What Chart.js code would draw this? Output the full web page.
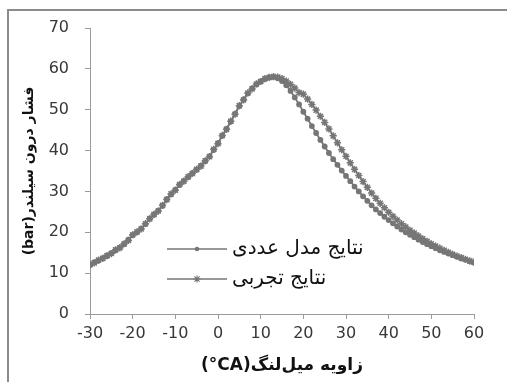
<!DOCTYPE html>
<html dir="ltr">
<head>
<meta charset="utf-8">
<script src="https://cdn.jsdelivr.net/npm/chart.js@4.4.1/dist/chart.umd.min.js"></script>
<style>
    html, body { margin: 0; padding: 0; background: #fff; }
    #wrap { position: relative; width: 507px; height: 382px; overflow: hidden; }
    #frame { position: absolute; left: 7px; top: 9px; width: 600px; height: 500px;
             border-left: 2px solid #8c8c8c; border-top: 2px solid #8c8c8c; }
    #pressureChart { position: absolute; left: 0; top: 0; }
</style>
</head>
<body>
<div id="wrap">
    <div id="frame"></div>
    <canvas id="pressureChart" width="507" height="382"></canvas>
</div>
<script>
    // crank angle (°CA)
    const angles = [
        -30, -29, -28, -27, -26, -25, -24, -23, -22, -21,
        -20, -19, -18, -17, -16, -15, -14, -13, -12, -11,
        -10, -9, -8, -7, -6, -5, -4, -3, -2, -1,
        0, 1, 2, 3, 4, 5, 6, 7, 8, 9,
        10, 11, 12, 13, 14, 15, 16, 17, 18, 19,
        20, 21, 22, 23, 24, 25, 26, 27, 28, 29,
        30, 31, 32, 33, 34, 35, 36, 37, 38, 39,
        40, 41, 42, 43, 44, 45, 46, 47, 48, 49,
        50, 51, 52, 53, 54, 55, 56, 57, 58, 59,
        60
    ];

    // numerical model pressure (bar)
    const modelPressure = [
        12.0, 12.6, 13.1, 13.7, 14.2, 14.9, 15.6, 16.3, 17.1, 18.2,
        19.3, 20.0, 20.9, 22.0, 23.4, 24.3, 25.3, 26.5, 28.1, 29.3,
        30.4, 31.6, 32.6, 33.5, 34.5, 35.3, 36.3, 37.4, 38.6, 40.2,
        41.8, 43.6, 45.3, 47.1, 49.0, 50.9, 52.5, 54.0, 55.2, 56.2,
        56.9, 57.5, 57.9, 58.0, 57.7, 57.0, 56.0, 54.6, 53.0, 51.3,
        49.5, 47.8, 46.0, 44.3, 42.6, 41.0, 39.4, 37.9, 36.5, 35.1,
        33.8, 32.5, 31.2, 30.0, 28.8, 27.7, 26.6, 25.6, 24.7, 23.8,
        23.0, 22.2, 21.4, 20.7, 20.0, 19.4, 18.8, 18.2, 17.6, 17.1,
        16.6, 16.1, 15.6, 15.2, 14.8, 14.4, 14.0, 13.6, 13.3, 12.9,
        12.6
    ];

    // experimental pressure (bar)
    const testPressure = [
        12.1, 12.5, 13.2, 13.6, 14.3, 14.8, 15.7, 16.2, 17.2, 18.0,
        19.4, 20.1, 20.8, 22.1, 23.3, 24.4, 25.2, 26.6, 28.0, 29.4,
        30.3, 31.7, 32.5, 33.6, 34.4, 35.4, 36.2, 37.5, 38.5, 40.3,
        41.7, 43.7, 45.2, 47.2, 48.9, 51.0, 52.4, 54.1, 55.1, 56.3,
        56.9, 57.6, 57.9, 58.1, 58.0, 57.6, 57.0, 56.2, 55.3, 54.2,
        53.8, 52.6, 51.3, 49.9, 48.4, 46.9, 45.3, 43.6, 41.9, 40.2,
        38.6, 37.0, 35.4, 33.9, 32.4, 31.0, 29.6, 28.3, 27.1, 26.0,
        24.9, 23.9, 23.0, 22.1, 21.3, 20.5, 19.8, 19.1, 18.4, 17.8,
        17.2, 16.6, 16.1, 15.6, 15.1, 14.6, 14.2, 13.8, 13.4, 13.0,
        12.7
    ];

    const seriesNames = ['نتایج مدل عددی', 'نتایج تجربی'];
    const xTicks = [-30, -20, -10, 0, 10, 20, 30, 40, 50, 60];
    const yTicks = [0, 10, 20, 30, 40, 50, 60, 70];

    const markColor = '#767676';

    // small line + marker glyph for legend entries
    const legendGlyph = (style) => {
        const c = document.createElement('canvas');
        c.width = 60;
        c.height = 12;
        const g = c.getContext('2d');
        g.strokeStyle = markColor;
        g.fillStyle = markColor;
        g.lineWidth = 1.3;
        g.beginPath();
        g.moveTo(0, 6);
        g.lineTo(60, 6);
        g.stroke();
        if (style === 'circle') {
            Chart.helpers.drawPoint(g, {pointStyle: 'circle', radius: 2.3, borderWidth: 0}, 30, 6);
        } else {
            g.lineWidth = 1.1;
            Chart.helpers.drawPoint(g, {pointStyle: 'star', radius: 3.6, borderWidth: 1.1}, 30, 6);
        }
        return c;
    };

    const toPoints = (ys) => angles.map((a, i) => ({x: a, y: ys[i]}));

    const legendSpot = {
        id: 'legendSpot',
        afterLayout(chart) {
            const lg = chart.legend;
            const w = lg.width;
            lg.left = 162;
            lg.right = 162 + w;
            lg.top = 229;
            lg.bottom = 229 + 200;
        }
    };

    const ctx = document.getElementById('pressureChart').getContext('2d');
    const pressureChart = new Chart(ctx, {
        type: 'line',
        data: {
            datasets: [
                {
                    label: seriesNames[0],
                    data: toPoints(modelPressure),
                    borderColor: markColor,
                    backgroundColor: markColor,
                    borderWidth: 1.8,
                    pointStyle: 'circle',
                    pointRadius: 2.9,
                    pointBorderWidth: 0,
                    pointBackgroundColor: markColor,
                    tension: 0
                },
                {
                    label: seriesNames[1],
                    data: toPoints(testPressure),
                    borderColor: markColor,
                    backgroundColor: markColor,
                    borderWidth: 1.6,
                    pointStyle: 'star',
                    pointRadius: 3.6,
                    pointBorderWidth: 1.5,
                    pointBorderColor: markColor,
                    tension: 0
                }
            ]
        },
        options: {
            responsive: false,
            animation: false,
            events: [],
            layout: {
                padding: {left: 0, top: 28, right: 33, bottom: 0}
            },
            plugins: {
                tooltip: {enabled: false},
                legend: {
                    position: 'chartArea',
                    align: 'start',
                    labels: {
                        usePointStyle: true,
                        pointStyleWidth: 50,
                        padding: 10,
                        color: '#111',
                        font: {family: 'DejaVu Sans', size: 20},
                        generateLabels: (chart) => chart.data.datasets.map((ds, i) => ({
                            text: ds.label,
                            pointStyle: legendGlyph(i === 0 ? 'circle' : 'star'),
                            fontColor: '#111',
                            lineWidth: 0,
                            datasetIndex: i,
                            hidden: false
                        }))
                    }
                }
            },
            scales: {
                x: {
                    type: 'linear',
                    min: xTicks[0],
                    max: xTicks[xTicks.length - 1],
                    afterFit: (scale) => { scale.height = 68; },
                    afterBuildTicks: (scale) => { scale.ticks = xTicks.map(v => ({value: v})); },
                    grid: {drawOnChartArea: false, drawTicks: true, tickLength: 5, color: '#9a9a9a'},
                    border: {display: true, color: '#9a9a9a', width: 1},
                    ticks: {
                        color: '#383838',
                        padding: 5,
                        maxRotation: 0,
                        font: {family: 'DejaVu Sans', size: 16}
                    },
                    title: {
                        display: true,
                        text: '(°CA)زاویه میل‌لنگ',
                        color: '#111',
                        padding: {top: 0, bottom: 6},
                        font: {family: 'DejaVu Sans', size: 17, weight: 'bold'}
                    }
                },
                y: {
                    min: yTicks[0],
                    max: yTicks[yTicks.length - 1],
                    afterFit: (scale) => { scale.width = 90; },
                    afterBuildTicks: (scale) => { scale.ticks = yTicks.map(v => ({value: v})); },
                    grid: {drawOnChartArea: false, drawTicks: true, tickLength: 5, color: '#9a9a9a'},
                    border: {display: true, color: '#9a9a9a', width: 1},
                    ticks: {
                        color: '#383838',
                        padding: 16,
                        font: {family: 'DejaVu Sans', size: 16}
                    },
                    title: {
                        display: true,
                        text: '(bar)فشار درون سیلندر',
                        color: '#111',
                        padding: {top: 21, bottom: 0},
                        font: {family: 'DejaVu Sans', size: 14, weight: 'bold'}
                    }
                }
            }
        },
        plugins: [legendSpot]
    });
</script>
</body>
</html>
